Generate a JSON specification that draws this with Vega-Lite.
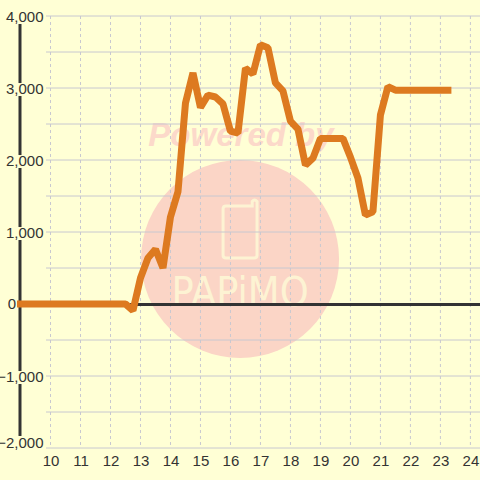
{"$schema":"https://vega.github.io/schema/vega-lite/v6.json","width":434,"height":432,"padding":{"left":46,"top":16,"right":0,"bottom":32},"autosize":{"type":"none"},"background":"#ffffd5","view":{"stroke":null},
"config":{"axisX":{"tickCount":15},"axisY":{"tickCount":7}},
"datasets":{"line":[{"h":9,"v":0},{"h":12.5,"v":0},{"h":12.75,"v":-90},{"h":13,"v":360},{"h":13.25,"v":640},{"h":13.5,"v":760},{"h":13.75,"v":500},{"h":14,"v":1210},{"h":14.25,"v":1560},{"h":14.5,"v":2790},{"h":14.75,"v":3210},{"h":15,"v":2730},{"h":15.25,"v":2900},{"h":15.5,"v":2875},{"h":15.75,"v":2780},{"h":16,"v":2400},{"h":16.25,"v":2375},{"h":16.5,"v":3275},{"h":16.75,"v":3195},{"h":17,"v":3600},{"h":17.25,"v":3560},{"h":17.5,"v":3070},{"h":17.75,"v":2960},{"h":18,"v":2540},{"h":18.25,"v":2430},{"h":18.5,"v":1930},{"h":18.75,"v":2025},{"h":19,"v":2300},{"h":19.25,"v":2300},{"h":19.5,"v":2300},{"h":19.75,"v":2300},{"h":20,"v":2040},{"h":20.25,"v":1750},{"h":20.5,"v":1235},{"h":20.75,"v":1280},{"h":21,"v":2625},{"h":21.25,"v":3020},{"h":21.5,"v":2970},{"h":21.75,"v":2970},{"h":22,"v":2970},{"h":22.25,"v":2970},{"h":22.5,"v":2970},{"h":22.75,"v":2970},{"h":23,"v":2970},{"h":23.25,"v":2970}],
"axisseg":[{"h":8.983,"a":3889,"b":3069},{"h":8.983,"a":2889,"b":2069},{"h":8.983,"a":1889,"b":1069},{"h":8.983,"a":889,"b":-931},{"h":8.983,"a":-1111,"b":-1833}],
"zero":[{"a":8.983,"b":24.32,"v":-8}],
"gridh":[{"a":9.85,"b":24.32,"v":4000},{"a":9.85,"b":24.32,"v":3500},{"a":9.85,"b":24.32,"v":3000},{"a":9.85,"b":24.32,"v":2500},{"a":9.85,"b":24.32,"v":2000},{"a":9.85,"b":24.32,"v":1500},{"a":9.85,"b":24.32,"v":1000},{"a":9.85,"b":24.32,"v":500},{"a":9.85,"b":24.32,"v":-500},{"a":9.85,"b":24.32,"v":-1000},{"a":9.85,"b":24.32,"v":-1500},{"a":9.85,"b":24.32,"v":-2000}],
"gridv":[{"h":10,"a":4000,"b":-1990},{"h":11,"a":4000,"b":-1990},{"h":12,"a":4000,"b":-1990},{"h":13,"a":4000,"b":-1990},{"h":14,"a":4000,"b":-1990},{"h":15,"a":4000,"b":-1990},{"h":16,"a":4000,"b":-1990},{"h":17,"a":4000,"b":-1990},{"h":18,"a":4000,"b":-1990},{"h":19,"a":4000,"b":-1990},{"h":20,"a":4000,"b":-1990},{"h":21,"a":4000,"b":-1990},{"h":22,"a":4000,"b":-1990},{"h":23,"a":4000,"b":-1990},{"h":24,"a":4000,"b":-1990}],
"circle":[{"h":16.32,"v":625}],
"phone":[{"h":16.32,"v":1000}],
"zerolabel":[{"h":8.85,"v":0,"t":"0"}],
"t1":[{"h":16.35,"v":2330,"t":"Powered by"}],
"t2":[{"h":16.32,"v":-28,"t":"PAPiMO"}]},
"layer":[
{"data":{"name":"circle"},"mark":{"type":"point","filled":true,"shape":"circle","size":39204,"color":"#fbd5c6","opacity":1},"encoding":{"x":{"field":"h","type":"quantitative","scale":{"domain":[9.85,24.32],"nice":false,"zero":false},"axis":{"title":null,"domain":false,"ticks":false,"labelFont":"Liberation Sans","labelFontSize":15,"labelColor":"#333333","labelPadding":5,"labelAngle":0,"grid":false,"labelOverlap":false,"format":"d"}},"y":{"field":"v","type":"quantitative","scale":{"domain":[-2000,4000],"nice":false,"zero":false},"axis":{"title":null,"domain":false,"ticks":false,"labelFont":"Liberation Sans","labelFontSize":15,"labelColor":"#333333","labelPadding":3,"grid":false,"labelOverlap":false,"labelExpr":"datum.value == 0 ? '' : format(datum.value, ',')","labelOffset":{"condition":{"test":"datum.value == -2000","value":-6},"value":0.5}}}}},
{"data":{"name":"phone"},"mark":{"type":"point","filled":false,"shape":"M0.3,-0.9 L-0.48,-0.9 Q-0.586,-0.9 -0.586,-0.8 L-0.586,0.8 Q-0.586,0.9 -0.48,0.9 L0.48,0.9 Q0.586,0.9 0.586,0.8 L0.586,-1.05 Q0.5,-1.15 0.42,-1.05 L0.42,-0.9 L0.3,-0.9 Z","size":3364,"stroke":"#fdf3d3","strokeWidth":3,"opacity":1},"encoding":{"x":{"field":"h","type":"quantitative"},"y":{"field":"v","type":"quantitative"}}},
{"data":{"name":"t1"},"mark":{"type":"text","font":"Liberation Sans","fontSize":33,"fontWeight":"bold","fontStyle":"italic","color":"#fcd9ca"},"encoding":{"x":{"field":"h","type":"quantitative"},"y":{"field":"v","type":"quantitative"},"text":{"field":"t"}}},
{"data":{"name":"t2"},"mark":{"type":"text","font":"'DejaVu Sans Condensed', 'DejaVu Sans'","fontSize":41,"baseline":"alphabetic","color":"#fdf3d3"},"encoding":{"x":{"field":"h","type":"quantitative"},"y":{"field":"v","type":"quantitative"},"text":{"field":"t"}}},
{"data":{"name":"gridh"},"mark":{"type":"rule","color":"#c8c8d0","strokeWidth":1},"encoding":{"x":{"field":"a","type":"quantitative"},"x2":{"field":"b"},"y":{"field":"v","type":"quantitative"}}},
{"data":{"name":"gridv"},"mark":{"type":"rule","color":"#c8c8d0","strokeWidth":1,"strokeDash":[3,3]},"encoding":{"x":{"field":"h","type":"quantitative"},"y":{"field":"a","type":"quantitative"},"y2":{"field":"b"}}},
{"data":{"name":"zero"},"mark":{"type":"rule","color":"#333333","strokeWidth":3},"encoding":{"x":{"field":"a","type":"quantitative"},"x2":{"field":"b"},"y":{"field":"v","type":"quantitative"}}},
{"data":{"name":"axisseg"},"mark":{"type":"rule","color":"#333333","strokeWidth":3},"encoding":{"x":{"field":"h","type":"quantitative"},"y":{"field":"a","type":"quantitative"},"y2":{"field":"b"}}},
{"data":{"name":"zerolabel"},"mark":{"type":"text","font":"Liberation Sans","fontSize":15,"align":"right","color":"#333333"},"encoding":{"x":{"field":"h","type":"quantitative"},"y":{"field":"v","type":"quantitative"},"text":{"field":"t"}}},
{"data":{"name":"line"},"mark":{"type":"line","color":"#dd7a20","strokeWidth":7,"strokeCap":"square","strokeJoin":"bevel","clip":false},"encoding":{"x":{"field":"h","type":"quantitative"},"y":{"field":"v","type":"quantitative"}}}
]}
